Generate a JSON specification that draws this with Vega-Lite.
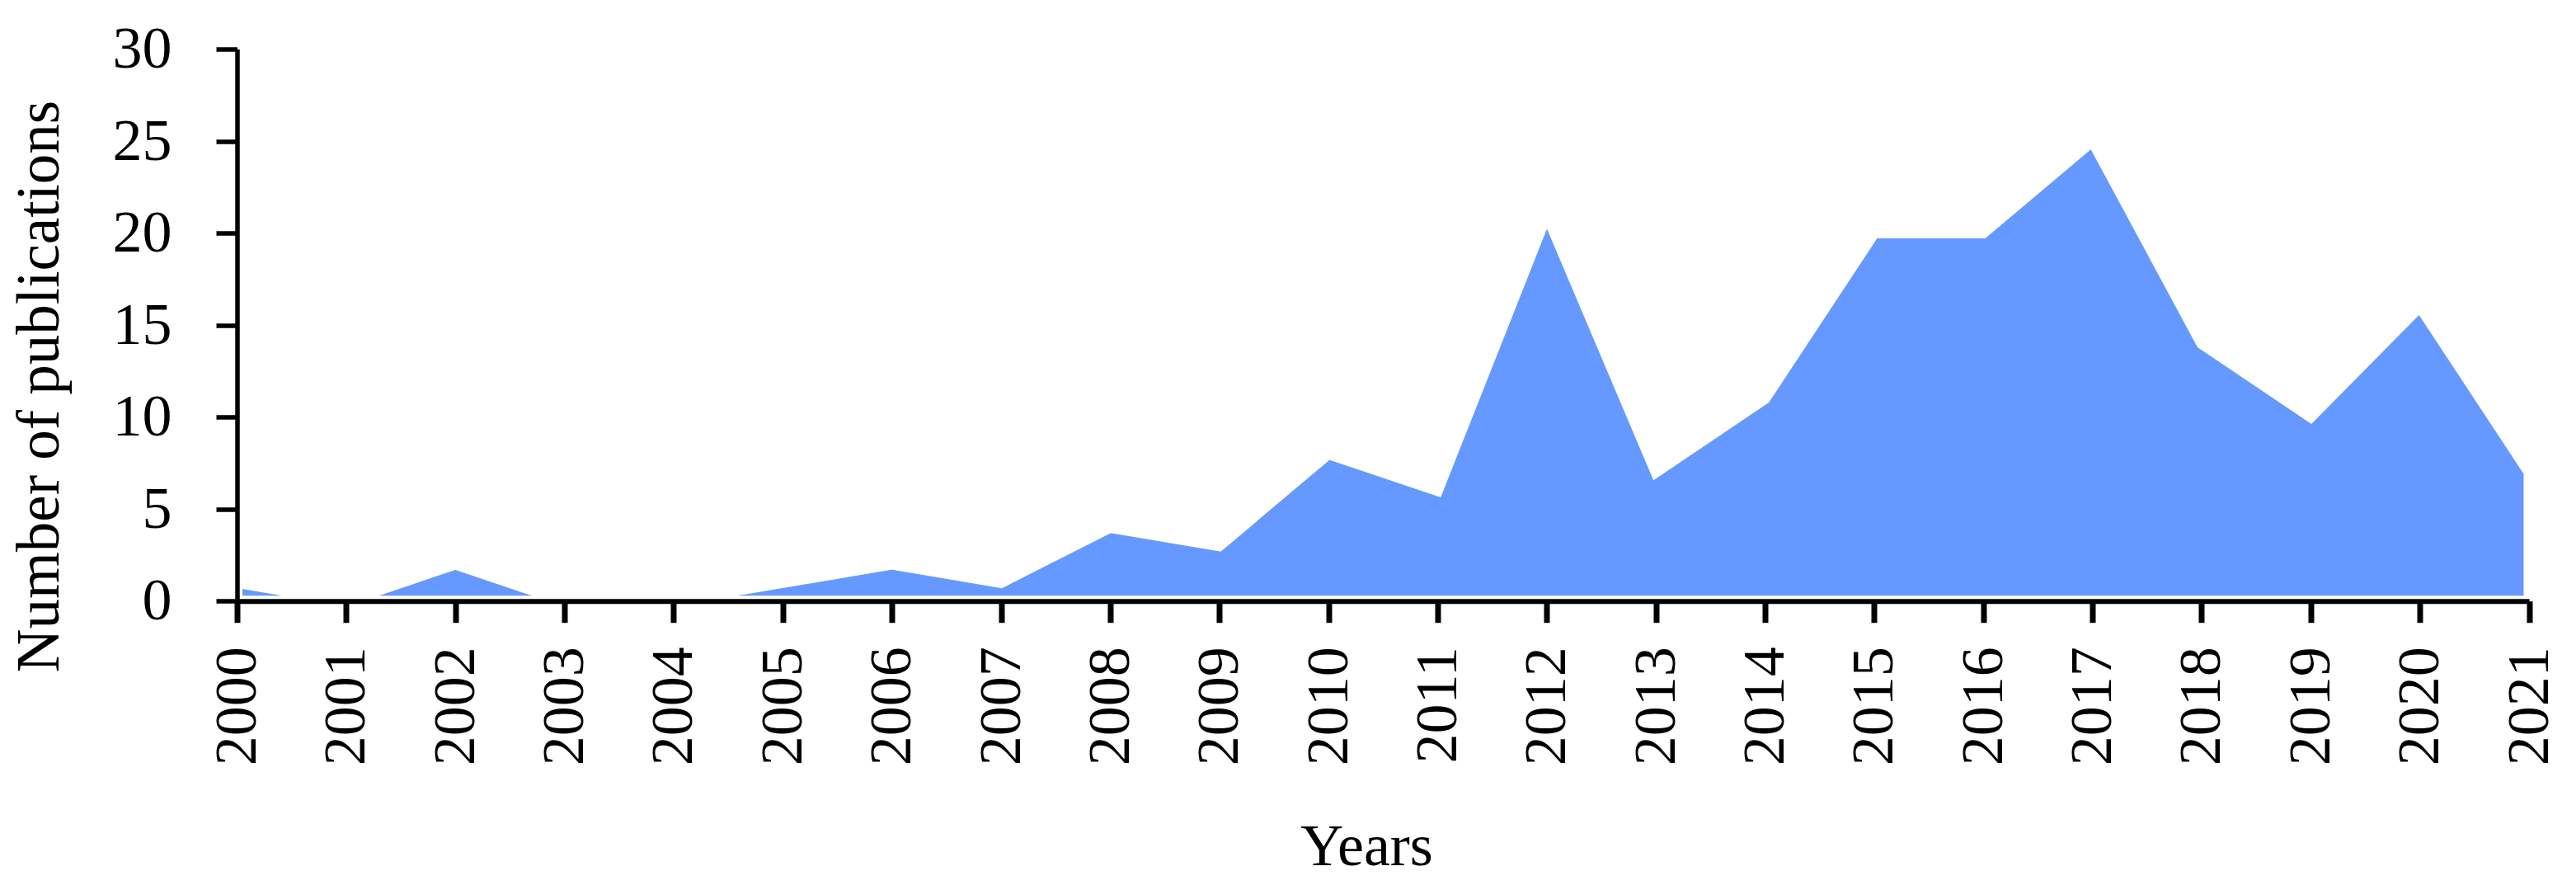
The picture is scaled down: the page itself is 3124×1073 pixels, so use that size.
{
  "$schema": "https://vega.github.io/schema/vega-lite/v6.json",
  "width": 2779.5,
  "height": 669.2,
  "autosize": {"type": "none"},
  "padding": {"left": 287.5, "top": 59.5, "right": 57, "bottom": 344.3},
  "background": "white",
  "config": {"view": {"stroke": null}, "font": "Liberation Serif"},
  "data": {
    "values": [
      {"year": 2000, "n": 1},
      {"year": 2001, "n": 0},
      {"year": 2002, "n": 2},
      {"year": 2003, "n": 0},
      {"year": 2004, "n": 0},
      {"year": 2005, "n": 1},
      {"year": 2006, "n": 2},
      {"year": 2007, "n": 1},
      {"year": 2008, "n": 4},
      {"year": 2009, "n": 3},
      {"year": 2010, "n": 8},
      {"year": 2011, "n": 6},
      {"year": 2012, "n": 21},
      {"year": 2013, "n": 7},
      {"year": 2014, "n": 11},
      {"year": 2015, "n": 20},
      {"year": 2016, "n": 20},
      {"year": 2017, "n": 25},
      {"year": 2018, "n": 14},
      {"year": 2019, "n": 10},
      {"year": 2020, "n": 16},
      {"year": 2021, "n": 7}
    ]
  },
  "mark": {"type": "area", "color": "#6699FF", "stroke": "white", "strokeWidth": 13, "strokeJoin": "miter", "opacity": 1, "fillOpacity": 1},
  "encoding": {
    "x": {
      "field": "year",
      "type": "quantitative",
      "scale": {"domain": [2000, 2021], "nice": false, "zero": false},
      "axis": {
        "values": [2000, 2001, 2002, 2003, 2004, 2005, 2006, 2007, 2008, 2009, 2010, 2011, 2012, 2013, 2014, 2015, 2016, 2017, 2018, 2019, 2020, 2021],
        "format": "d",
        "title": "Years",
        "titleFont": "Liberation Serif",
        "titleFontSize": 72,
        "titleFontWeight": "normal",
        "titleColor": "black",
        "titleBaseline": "alphabetic",
        "titleAlign": "center",
        "titleAnchor": null,
        "titleX": 1369.5,
        "titleY": 320,
        "labelAngle": 270,
        "labelFont": "Liberation Serif",
        "labelFontSize": 72,
        "labelColor": "black",
        "labelPadding": 29,
        "labelOverlap": false,
        "labelFlush": false,
        "labelBound": false,
        "domainColor": "black",
        "domainWidth": 6,
        "tickColor": "black",
        "tickWidth": 7,
        "tickSize": 26,
        "grid": false,
        "zindex": 1
      }
    },
    "y": {
      "field": "n",
      "type": "quantitative",
      "scale": {"domain": [0, 30], "nice": false},
      "axis": {
        "values": [0, 5, 10, 15, 20, 25, 30],
        "title": "Number of publications",
        "titleFont": "Liberation Serif",
        "titleFontSize": 73,
        "titleFontWeight": "normal",
        "titleColor": "black",
        "titleAngle": 270,
        "titleBaseline": "alphabetic",
        "titleAlign": "center",
        "titleAnchor": null,
        "titleX": -217.5,
        "titleY": 408.5,
        "labelFont": "Liberation Serif",
        "labelFontSize": 72,
        "labelColor": "black",
        "labelPadding": 54,
        "labelFlush": false,
        "labelOverlap": false,
        "labelBound": false,
        "domainColor": "black",
        "domainWidth": 5.5,
        "tickColor": "black",
        "tickWidth": 5.5,
        "tickSize": 25.5,
        "grid": false,
        "zindex": 1
      }
    }
  }
}
